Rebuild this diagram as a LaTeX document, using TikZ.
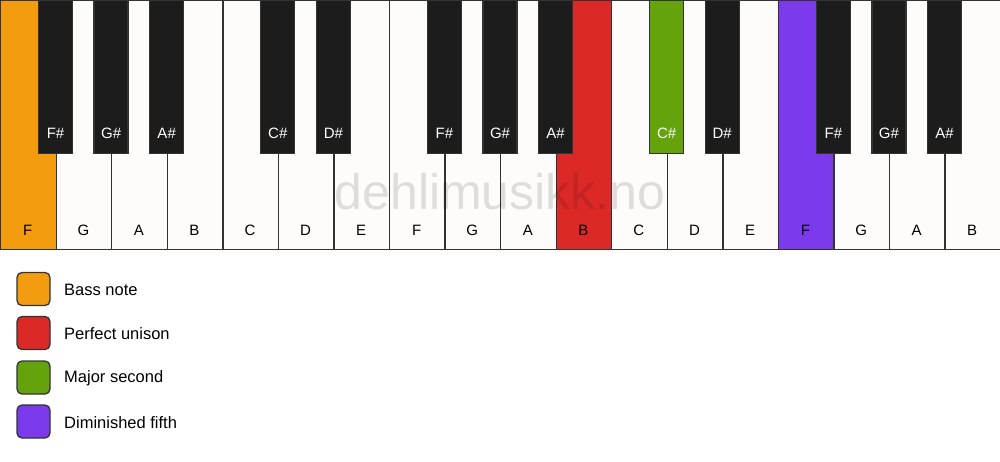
\documentclass[tikz,border=0pt]{standalone}
\usepackage{fontspec}
\setmainfont{Liberation Sans}
\definecolor{kwhite}{HTML}{FDFCFA}
\definecolor{kblack}{HTML}{1C1C1C}
\definecolor{korange}{HTML}{F39C0F}
\definecolor{kred}{HTML}{DD2828}
\definecolor{kgreen}{HTML}{65A30D}
\definecolor{kpurple}{HTML}{7C3AED}
\definecolor{kedge}{HTML}{333333}
\begin{document}
\begin{tikzpicture}[x=1pt,y=-1pt,
  whitekey/.style={draw=kedge,line width=1.3pt,rectangle,inner sep=0pt,minimum width=55.556pt,minimum height=249pt,anchor=north west},
  blackkey/.style={draw=kedge,line width=1.3pt,rectangle,inner sep=0pt,minimum width=34pt,minimum height=153pt,anchor=north},
  wlabel/.style={font=\fontsize{15}{15}\selectfont,text=black,inner sep=0pt},
  blabel/.style={font=\fontsize{15}{15}\selectfont,text=white,inner sep=0pt},
  legendbox/.style={draw=kedge,line width=1.3pt,rectangle,rounded corners=5pt,minimum size=33pt,inner sep=0pt},
  legendtext/.style={font=\fontsize{16.5}{16.5}\selectfont,text=black,anchor=west,inner sep=0pt}]
\useasboundingbox (0,0) rectangle (1000,461);
\fill[white] (0,0) rectangle (1000,461);
% white keys
\foreach \n/\c [count=\i from 0] in {F/korange,G/kwhite,A/kwhite,B/kwhite,C/kwhite,D/kwhite,E/kwhite,F/kwhite,G/kwhite,A/kwhite,B/kred,C/kwhite,D/kwhite,E/kwhite,F/kpurple,G/kwhite,A/kwhite,B/kwhite}{
  \node[whitekey,fill=\c] (w\i) at (\i*55.556,0) {};
  \node[wlabel] (wl\i) at (\i*55.556+27.778,230) {\n};
}
% watermark
\node[font=\fontsize{50}{50}\selectfont,text=black,opacity=0.12,inner sep=0pt] (wm) at (500,192) {dehlimusikk.no};
% black keys
\foreach \k/\n/\c in {1/F\#/kblack,2/G\#/kblack,3/A\#/kblack,5/C\#/kblack,6/D\#/kblack,8/F\#/kblack,9/G\#/kblack,10/A\#/kblack,12/C\#/kgreen,13/D\#/kblack,15/F\#/kblack,16/G\#/kblack,17/A\#/kblack}{
  \node[blackkey,fill=\c] (b\k) at (\k*55.556,0) {};
  \node[blabel] (bl\k) at (\k*55.556,133) {\n};
}
% legend
\node[legendbox,fill=korange] (lb1) at (33.5,289) {};
\node[legendtext] (lt1) at (64,290) {Bass note};
\node[legendbox,fill=kred] (lb2) at (33.5,333) {};
\node[legendtext] (lt2) at (64,334) {Perfect unison};
\node[legendbox,fill=kgreen] (lb3) at (33.5,377.5) {};
\node[legendtext] (lt3) at (64,378.5) {Major second};
\node[legendbox,fill=kpurple] (lb4) at (33.5,421.5) {};
\node[legendtext] (lt4) at (64,422.5) {Diminished fifth};
\end{tikzpicture}
\end{document}
